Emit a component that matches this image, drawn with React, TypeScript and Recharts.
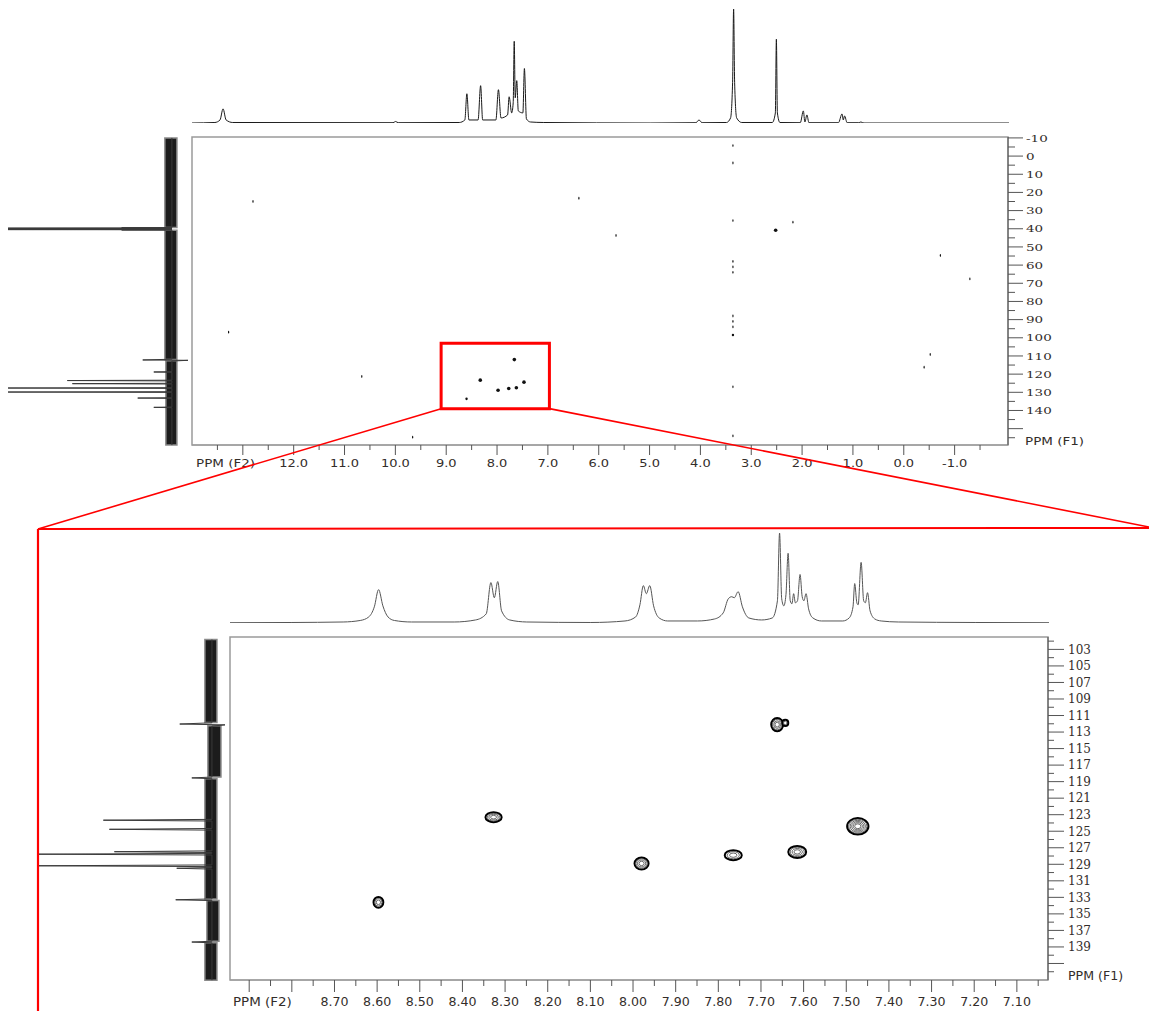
import React from "react";
import { Line, LineChart, ReferenceArea, Scatter, ScatterChart, XAxis, YAxis } from "recharts";

// 1H projection over the full range (ppm, intensity)
const protonFull = [
  [14.0, 0], [13.55, 0.5], [13.45, 3], [13.39, 14], [13.33, 3], [13.2, 0.5],
  [10.05, 0.3], [10.0, 1.5], [9.95, 0.3], [8.75, 0.5], [8.64, 3], [8.6, 29],
  [8.56, 3], [8.38, 3], [8.33, 37], [8.29, 3], [8.03, 3], [7.98, 33], [7.93, 5],
  [7.8, 8], [7.77, 26], [7.72, 10], [7.69, 20], [7.67, 81], [7.65, 25], [7.62, 42],
  [7.59, 12], [7.5, 10], [7.47, 54], [7.43, 4], [7.35, 1], [7.1, 0.5], [5.0, 0],
  [4.1, 0.3], [4.04, 3], [3.98, 0.3], [3.5, 0.5], [3.42, 5], [3.38, 40], [3.36, 113],
  [3.34, 40], [3.3, 5], [3.2, 0.5], [2.6, 0.5], [2.54, 10], [2.52, 83], [2.5, 10],
  [2.45, 0.5], [2.05, 0.3], [1.99, 12], [1.96, 1], [1.92, 8], [1.88, 0.3], [1.3, 0.3],
  [1.23, 9], [1.205, 3], [1.18, 7], [1.13, 0.3], [0.9, 0.3], [0.86, 1], [0.8, 0], [-2.05, 0],
].map(([ppm, i]) => ({ ppm, i }));

// 1H projection of the aromatic region
const protonZoom = [
  [8.945, 0.3], [8.8, 0.5], [8.68, 1], [8.64, 2.5], [8.62, 6], [8.607, 16], [8.597, 33],
  [8.587, 17], [8.575, 6], [8.56, 2.5], [8.52, 1], [8.42, 1], [8.37, 3], [8.345, 9],
  [8.334, 40], [8.326, 25], [8.318, 41], [8.309, 12], [8.29, 3], [8.25, 1], [8.1, 0.5],
  [8.02, 2], [7.995, 6], [7.985, 18], [7.977, 37], [7.97, 29], [7.962, 37], [7.953, 17],
  [7.94, 5], [7.92, 2], [7.85, 2], [7.81, 4], [7.79, 10], [7.778, 24], [7.77, 26],
  [7.764, 25], [7.755, 31], [7.745, 16], [7.73, 5], [7.7, 3], [7.675, 5], [7.663, 22],
  [7.658, 89], [7.653, 24], [7.648, 17], [7.643, 28], [7.638, 69], [7.633, 22],
  [7.629, 19], [7.625, 29], [7.621, 20], [7.616, 22], [7.61, 48], [7.605, 26],
  [7.601, 22], [7.596, 29], [7.59, 14], [7.58, 5], [7.56, 2], [7.51, 2], [7.495, 5],
  [7.486, 16], [7.482, 39], [7.477, 20], [7.474, 18], [7.467, 60], [7.461, 22],
  [7.457, 20], [7.452, 30], [7.446, 12], [7.435, 4], [7.42, 2], [7.38, 1], [7.2, 0.5],
  [7.027, 0.3],
].map(([ppm, i]) => ({ ppm, i }));

// 13C projection over the full range (ppm, intensity); DMSO septet near 40 ppm
const carbonFull = [
  [-10, 0], [39.2, 0], [39.3, 50], [39.4, 0], [39.5, 163], [39.6, 0], [39.7, 163],
  [39.8, 0], [39.9, 163], [40.0, 0], [40.1, 163], [40.2, 0], [40.3, 163], [40.4, 0],
  [40.5, 50], [40.6, 0], [111.4, 0], [111.8, 29], [112.0, -16], [112.4, 0], [118.2, 0],
  [118.4, 18], [118.6, 0], [122.9, 0], [123.1, 104], [123.3, 0], [124.6, 0], [124.8, 99],
  [125.0, 0], [127.0, 0], [127.2, 163], [127.4, 0], [129.2, 0], [129.4, 163], [129.6, 0],
  [132.5, 0], [132.7, 34], [132.9, 0], [137.6, 0], [137.8, 18], [138.0, 0], [158.5, 0],
].map(([ppm, i]) => ({ ppm, i }));

// 13C projection of the aromatic region
const carbonZoom = [
  [101.8, 0], [111.85, 0], [112.0, 32], [112.1, -13], [112.25, 0], [118.4, 0],
  [118.5, 20], [118.6, 0], [123.5, 0], [123.6, 108], [123.7, 0], [124.6, 0], [124.7, 102],
  [124.8, 0], [127.3, 0], [127.4, 97], [127.5, 0], [127.6, 0], [127.7, 173], [127.8, 0],
  [129.0, 0], [129.1, 173], [129.2, 0], [129.3, 0], [129.4, 35], [129.5, 0], [133.1, 0],
  [133.2, 36], [133.3, 0], [138.2, 0], [138.3, 20], [138.4, 0], [142.9, 0],
].map(([ppm, i]) => ({ ppm, i }));

// noise envelope of the 13C traces: ppm range and intensity spread
const carbonNoiseFull = [
  { from: -10, to: 39.1, lo: -5, hi: 7 },
  { from: 40.7, to: 111.6, lo: -5, hi: 7 },
  { from: 112.2, to: 158.5, lo: -5, hi: 6 },
];
const carbonNoiseZoom = [
  { from: 101.8, to: 111.8, lo: -5, hi: 7 },
  { from: 112.2, to: 118.4, lo: -9, hi: 4 },
  { from: 118.6, to: 133.1, lo: -5, hi: 7 },
  { from: 133.3, to: 138.2, lo: -7, hi: 5 },
  { from: 138.4, to: 142.9, lo: -5, hi: 7 },
];

// HSQC cross peaks, full range (F2 ppm, F1 ppm, contour level)
const crossFull = [
  [3.36, -5.8, 1], [3.36, 3.8, 1], [3.36, 35.5, 1], [3.36, 58, 1], [3.36, 61, 1],
  [3.36, 64, 1], [3.36, 88, 1], [3.36, 91, 1], [3.36, 94, 1], [3.36, 98.5, 2],
  [3.36, 127, 1], [3.36, 154, 1], [12.8, 25, 1], [6.39, 23.2, 1], [5.66, 43.7, 1],
  [2.52, 40.8, 3], [2.18, 36.4, 1], [-0.72, 54.7, 1], [-1.3, 67.6, 1], [13.28, 96.9, 1],
  [-0.52, 109.2, 1], [-0.4, 116.2, 1], [10.66, 121.3, 1], [9.66, 154.7, 1],
  [7.66, 112.0, 3], [8.33, 123.3, 3], [7.98, 128.9, 3], [7.77, 127.9, 3],
  [7.62, 127.5, 3], [7.47, 124.4, 3], [8.6, 133.6, 2],
].map(([h, c, level]) => ({ h, c, level }));

// HSQC cross peaks, aromatic region (F2 ppm, F1 ppm, F2 width ppm, F1 width ppm, contour levels)
const crossZoom = [
  [7.662, 112.1, 0.028, 1.6, 4], [7.643, 111.9, 0.014, 0.75, 2],
  [7.473, 124.4, 0.05, 2.0, 6], [7.765, 127.9, 0.04, 1.2, 3],
  [7.615, 127.5, 0.042, 1.45, 4], [8.327, 123.3, 0.038, 1.2, 4],
  [7.98, 128.9, 0.033, 1.45, 4], [8.597, 133.6, 0.023, 1.3, 3],
].map(([h, c, wh, wc, levels]) => ({ h, c, wh, wc, levels }));

// tick values
const f2TicksFull = [13.5, 13, 12.5, 12, 11.5, 11, 10.5, 10, 9.5, 9, 8.5, 8, 7.5, 7, 6.5, 6, 5.5, 5, 4.5, 4, 3.5, 3, 2.5, 2, 1.5, 1, 0.5, 0, -0.5, -1, -1.5];
const f2MajorFull = [13, 12, 11, 10, 9, 8, 7, 6, 5, 4, 3, 2, 1, 0, -1];
const f2LabelsFull = [12, 11, 10, 9, 8, 7, 6, 5, 4, 3, 2, 1, 0, -1];
const f1TicksFull = [-10, -5, 0, 5, 10, 15, 20, 25, 30, 35, 40, 45, 50, 55, 60, 65, 70, 75, 80, 85, 90, 95, 100, 105, 110, 115, 120, 125, 130, 135, 140, 145, 150, 155];
const f1MajorFull = [-10, 0, 10, 20, 30, 40, 50, 60, 70, 80, 90, 100, 110, 120, 130, 140, 150];
const f1LabelsFull = [-10, 0, 10, 20, 30, 40, 50, 60, 70, 80, 90, 100, 110, 120, 130, 140];
const f2TicksZoom = [8.9, 8.85, 8.8, 8.75, 8.7, 8.65, 8.6, 8.55, 8.5, 8.45, 8.4, 8.35, 8.3, 8.25, 8.2, 8.15, 8.1, 8.05, 8.0, 7.95, 7.9, 7.85, 7.8, 7.75, 7.7, 7.65, 7.6, 7.55, 7.5, 7.45, 7.4, 7.35, 7.3, 7.25, 7.2, 7.15, 7.1, 7.05];
const f2MajorZoom = [8.9, 8.8, 8.7, 8.6, 8.5, 8.4, 8.3, 8.2, 8.1, 8.0, 7.9, 7.8, 7.7, 7.6, 7.5, 7.4, 7.3, 7.2, 7.1];
const f2LabelsZoom = [8.7, 8.6, 8.5, 8.4, 8.3, 8.2, 8.1, 8.0, 7.9, 7.8, 7.7, 7.6, 7.5, 7.4, 7.3, 7.2, 7.1];
const f1TicksZoom = [102, 103, 104, 105, 106, 107, 108, 109, 110, 111, 112, 113, 114, 115, 116, 117, 118, 119, 120, 121, 122, 123, 124, 125, 126, 127, 128, 129, 130, 131, 132, 133, 134, 135, 136, 137, 138, 139, 140, 141, 142];
const f1MajorZoom = [103, 105, 107, 109, 111, 113, 115, 117, 119, 121, 123, 125, 127, 129, 131, 133, 135, 137, 139, 141];
const f1LabelsZoom = [103, 105, 107, 109, 111, 113, 115, 117, 119, 121, 123, 125, 127, 129, 131, 133, 135, 137, 139];

// zoom window drawn on the overview
const zoomWindow = { h1: 9.1, h2: 6.97, c1: 103, c2: 139 };

// page layout
const W = 1149;
const H = 1011;
const TOP = { left: 192, right: 1008, top: 137, bottom: 445 };
const TOP_H = [14, -2.05];
const TOP_C = [-10.5, 159];
const BOT = { left: 230, right: 1048, top: 637, bottom: 980 };
const BOT_H = [8.945, 7.027];
const BOT_C = [101.5, 143];

const TEXT = "#332d2a";
const AXIS = "#555";
const BOX = "#9a9a9a";
const SANS = "'DejaVu Sans', Verdana, sans-serif";
const SERIF = "'DejaVu Serif', serif";

const has = (arr: number[], v: number) => arr.some((a) => Math.abs(a - v) < 1e-6);

type TickOpts = {
  majors: number[];
  labels: number[];
  digits: number;
  long: number;
  short: number;
  gap: number;
  size: number;
  sx: number;
  font: string;
};

function makeXTick(o: TickOpts) {
  return (props: any) => {
    const { x, y, payload } = props;
    const v = payload.value;
    const len = has(o.majors, v) ? o.long : o.short;
    return (
      <g>
        <line x1={x} x2={x} y1={y} y2={y + len} stroke={AXIS} />
        {has(o.labels, v) && (
          <text
            transform={`translate(${x},${y + o.gap}) scale(${o.sx},1)`}
            textAnchor="middle"
            fontSize={o.size}
            fontFamily={o.font}
            fill={TEXT}
          >
            {v.toFixed(o.digits)}
          </text>
        )}
      </g>
    );
  };
}

function makeYTick(o: TickOpts) {
  return (props: any) => {
    const { x, y, payload } = props;
    const v = payload.value;
    const len = has(o.majors, v) ? o.long : o.short;
    return (
      <g>
        <line x1={x} x2={x + len} y1={y} y2={y} stroke={AXIS} />
        {has(o.labels, v) && (
          <text
            transform={`translate(${x + o.gap},${y + o.size * 0.36}) scale(${o.sx},1)`}
            textAnchor="start"
            fontSize={o.size}
            fontFamily={o.font}
            fill={TEXT}
          >
            {v.toFixed(o.digits)}
          </text>
        )}
      </g>
    );
  };
}

const axisTitle = (text: string, dx: number, dy: number, size: number, sx: number, fromBottom = false) =>
  (p: any) => {
    const vb = p.viewBox;
    const y = fromBottom ? vb.y + vb.height + dy : vb.y + dy;
    return (
      <text
        transform={`translate(${vb.x + dx},${y}) scale(${sx},1)`}
        fontSize={size}
        fontFamily={SANS}
        fill={TEXT}
      >
        {text}
      </text>
    );
  };

const layer: React.CSSProperties = { position: "absolute", left: 0, top: 0 };

function margins(box: { left: number; right: number; top: number; bottom: number }) {
  return { left: box.left, top: box.top, right: W - box.right - 1, bottom: H - box.bottom - 1 };
}

const noMarker = () => <g />;

// top: overview HSQC
function Overview() {
  const topDot = (p: any) => {
    const lv = p.payload.level;
    const rx = lv === 3 ? 1.8 : lv === 2 ? 1.2 : 0.6;
    const ry = lv === 3 ? 1.8 : lv === 2 ? 1.3 : 1.4;
    return <ellipse cx={p.cx} cy={p.cy} rx={rx} ry={ry} fill="#111" />;
  };
  return (
    <div style={layer}>
      <ScatterChart width={W} height={H} margin={margins(TOP)}>
        <XAxis
          type="number"
          dataKey="h"
          domain={[TOP_H[1], TOP_H[0]]}
          reversed
          allowDataOverflow
          ticks={f2TicksFull}
          interval={0}
          height={1}
          tickSize={0}
          tickMargin={0}
          tickLine={false}
          axisLine={{ stroke: BOX }}
          tick={makeXTick({ majors: f2MajorFull, labels: f2LabelsFull, digits: 1, long: 10, short: 5, gap: 22, size: 10, sx: 1.3, font: SANS })}
          label={{ content: axisTitle("PPM (F2)", 4, 22, 10, 1.35) }}
        />
        <YAxis
          type="number"
          dataKey="c"
          orientation="right"
          domain={[TOP_C[0], TOP_C[1]]}
          reversed
          allowDataOverflow
          ticks={f1TicksFull}
          interval={0}
          width={1}
          tickSize={0}
          tickMargin={0}
          tickLine={false}
          axisLine={{ stroke: AXIS }}
          tick={makeYTick({ majors: f1MajorFull, labels: f1LabelsFull, digits: 0, long: 15, short: 7, gap: 18, size: 10, sx: 1.35, font: SERIF })}
          label={{ content: axisTitle("PPM (F1)", 17, 0, 10, 1.35, true) }}
        />
        <ReferenceArea x1={TOP_H[0]} x2={TOP_H[1]} y1={TOP_C[0]} y2={TOP_C[1]} fill="none" stroke={BOX} strokeWidth={1.5} />
        <ReferenceArea
          x1={zoomWindow.h1}
          x2={zoomWindow.h2}
          y1={zoomWindow.c1}
          y2={zoomWindow.c2}
          fill="none"
          stroke="#ff0000"
          strokeWidth={3}
        />
        <Scatter data={crossFull} shape={topDot} isAnimationActive={false} />
      </ScatterChart>
    </div>
  );
}

// bottom: aromatic region HSQC
function ZoomPanel() {
  const pxH = (BOT.right - BOT.left) / (BOT_H[0] - BOT_H[1]);
  const pxC = (BOT.bottom - BOT.top) / (BOT_C[1] - BOT_C[0]);
  const contour = (p: any) => {
    const d = p.payload;
    const rx = (d.wh * pxH) / 2;
    const ry = (d.wc * pxC) / 2;
    const rings = [];
    for (let k = 0; k < d.levels; k++) {
      const f = 1 - (k / d.levels) * 0.85;
      rings.push(
        <ellipse
          key={k}
          cx={p.cx}
          cy={p.cy}
          rx={rx * f}
          ry={ry * f}
          fill={k === 0 ? "#fff" : "none"}
          stroke={k === 0 ? "#000" : "#444"}
          strokeWidth={k === 0 ? 2 : 0.8}
        />
      );
    }
    return <g>{rings}</g>;
  };
  return (
    <div style={layer}>
      <ScatterChart width={W} height={H} margin={margins(BOT)}>
        <XAxis
          type="number"
          dataKey="h"
          domain={[BOT_H[1], BOT_H[0]]}
          reversed
          allowDataOverflow
          ticks={f2TicksZoom}
          interval={0}
          height={1}
          tickSize={0}
          tickMargin={0}
          tickLine={false}
          axisLine={{ stroke: BOX }}
          tick={makeXTick({ majors: f2MajorZoom, labels: f2LabelsZoom, digits: 2, long: 12, short: 6, gap: 26, size: 12, sx: 1.05, font: SANS })}
          label={{ content: axisTitle("PPM (F2)", 3, 26, 12, 1.12) }}
        />
        <YAxis
          type="number"
          dataKey="c"
          orientation="right"
          domain={[BOT_C[0], BOT_C[1]]}
          reversed
          allowDataOverflow
          ticks={f1TicksZoom}
          interval={0}
          width={1}
          tickSize={0}
          tickMargin={0}
          tickLine={false}
          axisLine={{ stroke: AXIS }}
          tick={makeYTick({ majors: f1MajorZoom, labels: f1LabelsZoom, digits: 0, long: 16, short: 6, gap: 20, size: 12, sx: 1.0, font: SERIF })}
          label={{ content: axisTitle("PPM (F1)", 20, 0, 12, 1.05, true) }}
        />
        <ReferenceArea x1={BOT_H[0]} x2={BOT_H[1]} y1={BOT_C[0]} y2={BOT_C[1]} fill="none" stroke={BOX} strokeWidth={1.5} />
        <Scatter data={crossZoom} shape={contour} isAnimationActive={false} />
      </ScatterChart>
    </div>
  );
}

function ProtonTrace({ data, box, dom, max, color }: any) {
  return (
    <div style={layer}>
      <LineChart width={W} height={H} data={data} margin={margins(box)}>
        <XAxis type="number" dataKey="ppm" domain={[dom[1], dom[0]]} reversed allowDataOverflow hide />
        <YAxis type="number" domain={[0, max]} allowDataOverflow hide />
        <Line
          type="monotone"
          dataKey="i"
          stroke={color}
          strokeWidth={1}
          dot={false}
          isAnimationActive={false}
        />
      </LineChart>
    </div>
  );
}

// vertical 13C trace: intensity runs leftwards, ppm downwards
function CarbonTrace({ data, noise, box, dom, iDom }: any) {
  return (
    <div style={layer}>
      <ScatterChart width={W} height={H} margin={margins(box)}>
        <XAxis type="number" dataKey="i" domain={iDom} reversed allowDataOverflow hide />
        <YAxis type="number" dataKey="ppm" domain={dom} reversed allowDataOverflow hide />
        {noise.map((n: any, k: number) => (
          <ReferenceArea
            key={k}
            x1={n.lo}
            x2={n.hi}
            y1={n.from}
            y2={n.to}
            fill="#1c1c1c"
            fillOpacity={1}
            stroke="#8a8a8a"
            strokeWidth={1.5}
          />
        ))}
        <Scatter
          data={data}
          line={{ stroke: "#3a3a3a", strokeWidth: 1 }}
          lineType="joint"
          shape={noMarker}
          isAnimationActive={false}
        />
      </ScatterChart>
    </div>
  );
}

function Connectors() {
  const fx = (ppm: number) => TOP.left + ((TOP_H[0] - ppm) / (TOP_H[0] - TOP_H[1])) * (TOP.right - TOP.left);
  const fy = (ppm: number) => TOP.top + ((ppm - TOP_C[0]) / (TOP_C[1] - TOP_C[0])) * (TOP.bottom - TOP.top);
  const bl = { x: fx(zoomWindow.h1), y: fy(zoomWindow.c2) };
  const br = { x: fx(zoomWindow.h2), y: fy(zoomWindow.c2) };
  return (
    <svg width={W} height={H} style={{ ...layer, pointerEvents: "none" }}>
      <g stroke="#ff0000" strokeWidth={1.6} fill="none">
        <line x1={bl.x} y1={bl.y} x2={38} y2={529} />
        <line x1={br.x} y1={br.y} x2={W} y2={527} />
        <line x1={38} y1={529} x2={W} y2={528} strokeWidth={2} />
        <line x1={38} y1={529} x2={38} y2={H} strokeWidth={2.2} />
      </g>
    </svg>
  );
}

export default function App() {
  return (
    <div style={{ position: "absolute", left: 0, top: 0, width: W, height: H, background: "#fff", fontFamily: SANS }}>
      <ProtonTrace data={protonFull} box={{ left: TOP.left, right: TOP.right, top: 5, bottom: 122 }} dom={TOP_H} max={117} color="#1a1a1a" />
      <CarbonTrace data={carbonFull} noise={carbonNoiseFull} box={{ left: 0, right: 190, top: TOP.top, bottom: TOP.bottom }} dom={TOP_C} iDom={[-19, 171]} />
      <Overview />
      <ProtonTrace data={protonZoom} box={{ left: BOT.left, right: BOT.right, top: 530, bottom: 622 }} dom={BOT_H} max={92} color="#555" />
      <CarbonTrace data={carbonZoom} noise={carbonNoiseZoom} box={{ left: 38, right: 225, top: BOT.top, bottom: BOT.bottom }} dom={BOT_C} iDom={[-14, 173]} />
      <ZoomPanel />
      <Connectors />
    </div>
  );
}
